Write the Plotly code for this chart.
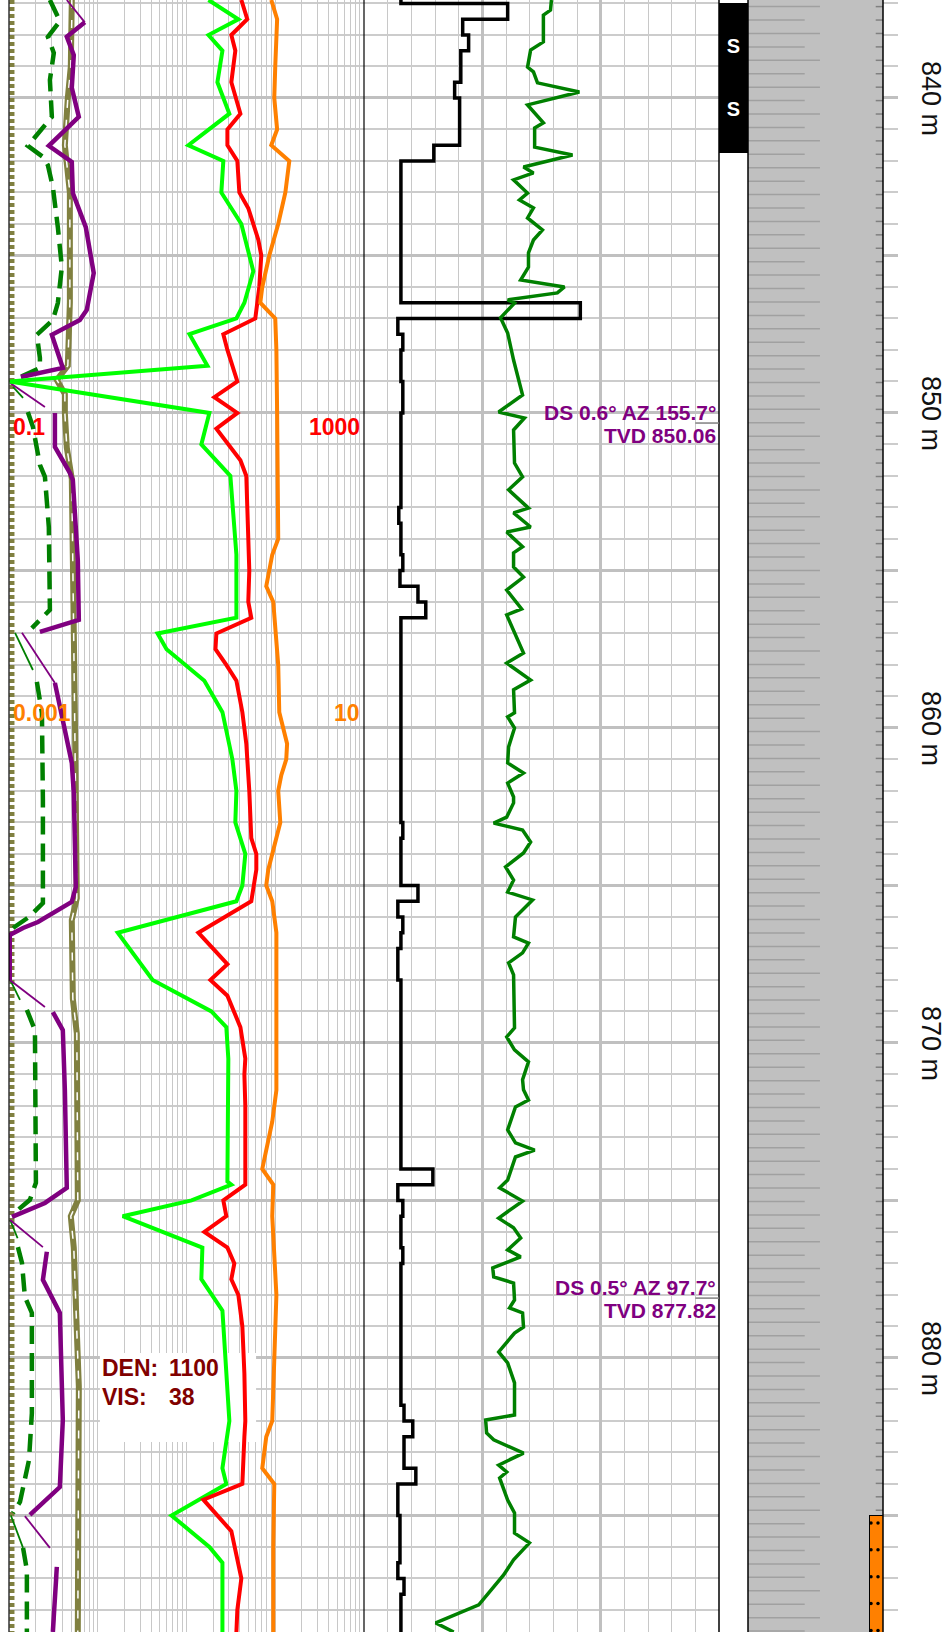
import numpy as np
import plotly.graph_objects as go

W, H = 947, 1632
DEPTH_TOP, DEPTH_BOT = 836.89, 888.70
FONT = "Liberation Sans, Arial, sans-serif"

# ---------------- track 1 (log, red scale 0.1 - 1000) ----------------
lime_depth = [836.89, 837.5, 838.0, 838.5, 839.5, 840.5, 841.5, 842.0, 843.0, 844.0,
              845.5, 846.5, 847.0, 847.5, 848.5, 849.0, 850.0, 851.0, 852.0, 854.5,
              856.5, 857.0, 857.5, 858.5, 859.5, 861.0, 862.0, 863.0, 864.0, 865.0,
              865.5, 866.5, 868.0, 869.0, 869.5, 870.5, 874.4, 874.5, 875.0, 875.5,
              876.5, 877.5, 878.5, 882.0, 883.5, 884.0, 885.0, 886.0, 886.5, 888.7]
lime_val = [17.7, 38.4, 17.7, 25.4, 22.3, 30.4, 10.5, 26.0, 24.7, 41.5,
            56.6, 44.9, 36.5, 10.8, 17.2, 0.102, 18.1, 14.7, 31.2, 36.5,
            36.5, 4.72, 5.96, 15.9, 25.4, 32.9, 36.5, 35.5, 46.0, 42.6,
            36.5, 1.68, 4.15, 19.1, 28.1, 29.6, 28.9, 32.0, 11.4, 1.91,
            15.1, 14.7, 25.4, 30.4, 25.4, 28.1, 6.78, 18.1, 25.4, 25.4]

red_depth = [836.89, 837.5, 838.0, 838.5, 839.5, 840.5, 841.0, 841.5, 842.0, 843.0,
             843.5, 844.5, 845.0, 846.0, 847.0, 847.5, 848.0, 849.0, 849.5, 850.0,
             850.5, 851.5, 852.0, 853.5, 855.0, 856.0, 856.5, 857.0, 857.5, 858.0,
             858.5, 859.5, 860.5, 862.0, 863.5, 864.0, 864.5, 865.5, 866.5, 867.5,
             868.0, 868.5, 869.5, 870.5, 871.0, 872.0, 874.5, 875.0, 875.5, 876.0,
             876.5, 877.0, 877.5, 878.0, 879.0, 880.5, 882.0, 882.5, 884.0, 884.5,
             885.5, 887.0, 888.0, 888.7]
red_val = [41.5, 48.4, 32.0, 35.5, 32.0, 40.5, 28.9, 28.9, 37.4, 39.4,
           49.7, 64.4, 69.6, 66.1, 59.6, 26.0, 28.9, 37.4, 20.6, 37.4,
           21.7, 40.5, 47.2, 49.7, 51.0, 49.7, 53.7, 21.7, 21.2, 28.1,
           36.5, 42.6, 47.2, 51.0, 53.7, 61.2, 61.2, 53.7, 13.6, 28.9,
           18.6, 28.9, 40.5, 46.0, 44.9, 46.0, 46.0, 26.0, 28.1, 15.9,
           28.9, 34.6, 32.0, 38.4, 42.6, 44.9, 46.0, 44.9, 42.6, 15.5,
           32.0, 41.5, 37.4, 36.5]

# orange uses its own scale 0.001 - 10
orange_depth = [836.89, 837.5, 839.0, 840.0, 841.0, 841.5, 842.0, 843.0, 844.0, 845.0,
                846.0, 846.5, 847.0, 848.0, 850.0, 854.0, 854.5, 855.5, 856.0, 858.0,
                859.5, 860.5, 861.0, 861.5, 862.0, 863.0, 864.5, 865.0, 865.5, 866.5,
                869.5, 871.5, 872.5, 874.0, 874.5, 875.5, 878.0, 881.5, 882.0, 882.5,
                883.5, 884.0, 886.0, 888.7]
orange_val = [0.902, 1.05, 1.00, 0.975, 1.05, 0.902, 1.44, 1.30, 1.08, 0.857,
              0.714, 0.678, 1.00, 1.03, 1.05, 1.08, 0.925, 0.792, 0.950, 1.08,
              1.11, 1.36, 1.33, 1.17, 1.08, 1.14, 0.834, 0.792, 0.925, 1.03,
              1.03, 1.03, 0.925, 0.714, 0.950, 0.925, 1.03, 0.950, 0.925, 0.792,
              0.714, 0.975, 0.950, 0.950]

olive_depth = [836.89, 837.5, 839.0, 840.0, 841.5, 843.0, 846.5, 848.5, 848.95, 849.4,
               850.0, 851.1, 852.1, 859.5, 862.0, 865.4, 866.1, 868.6, 869.7, 875.0,
               875.5, 876.5, 880.9, 888.7]
olive_val = [0.510, 0.510, 0.497, 0.460, 0.426, 0.485, 0.485, 0.460, 0.346, 0.426,
             0.426, 0.448, 0.510, 0.552, 0.566, 0.581, 0.510, 0.524, 0.581, 0.596,
             0.497, 0.537, 0.612, 0.596]

olive_edge_depth = [836.89, 888.7]
olive_edge_val = [0.108, 0.108]

purple_depth = [837.6, 838.06, 838.64, 839.68, 840.6, 841.52, 842.03, 843.02, 844.1, 845.56,
                846.73, 847.05, 847.52, 848.57, 848.86, None,
                850.0, 851.08, 851.9, 852.13, 854.67, 856.57, 856.95, None,
                858.57, 861.11, 862.06, 865.05, 865.52, 866.16, 866.35, 866.57, 868.0, None,
                869.02, 869.59, 871.49, 874.6, 875.08, 875.52, None,
                876.63, 877.52, 878.57, 881.97, 884.1, 884.98, None,
                886.63, 888.7]
purple_val = [0.715, 0.448, 0.537, 0.510, 0.612, 0.281, 0.510, 0.524, 0.733, 0.901,
              0.752, 0.628, 0.304, 0.404, 0.136, None,
              0.329, 0.329, 0.485, 0.524, 0.596, 0.612, 0.223, None,
              0.329, 0.510, 0.537, 0.566, 0.510, 0.212, 0.144, 0.102, 0.102, None,
              0.312, 0.404, 0.426, 0.448, 0.254, 0.108, None,
              0.267, 0.241, 0.374, 0.404, 0.374, 0.172, None,
              0.346, 0.312]
purple_thin_depth = [836.89, 837.6, None, 849.05, 849.81, None, 856.98, 858.57, None,
                     868.0, 868.86, None, 875.62, 876.48, None, 885.02, 886.03]
purple_thin_val = [0.448, 0.715, None, 0.103, 0.254, None, 0.140, 0.329, None,
                   0.102, 0.254, None, 0.103, 0.241, None, 0.151, 0.289]

dgreen_depth = [836.89, 837.56, 838.06, 838.57, 839.43, 840.6, 841.52, 841.87, 842.13, 842.83,
                844.1, 845.37, 846.51, 847.05, 847.52, 848.25, 848.57, 848.86, None,
                849.97, 850.44, 851.65, 852.03, 853.62, 856.25, 856.83, None,
                858.54, 859.52, 862.29, 865.56, 866.0, 866.35, None,
                868.95, 869.59, 874.44, 874.98, 875.46, None,
                876.48, 876.98, 878.06, 878.57, 881.75, 883.24, 884.57, 884.92, None,
                886.03, 886.73, 888.7]
dgreen_val = [0.289, 0.374, 0.274, 0.320, 0.289, 0.304, 0.163, 0.241, 0.274, 0.312,
              0.355, 0.394, 0.355, 0.312, 0.206, 0.223, 0.223, 0.133, None,
              0.163, 0.186, 0.223, 0.254, 0.281, 0.289, 0.181, None,
              0.206, 0.235, 0.241, 0.241, 0.168, 0.111, None,
              0.159, 0.196, 0.201, 0.172, 0.108, None,
              0.126, 0.140, 0.151, 0.181, 0.181, 0.168, 0.133, 0.111, None,
              0.144, 0.159, 0.159]
dgreen_thin_depth = [849.17, 849.52, None, 856.98, 858.16, None, 868.0, 868.63, None,
                     875.62, 876.2, None, 885.0, 886.03]
dgreen_thin_val = [0.111, 0.144, None, 0.117, 0.186, None, 0.103, 0.133, None,
                   0.103, 0.125, None, 0.105, 0.144]

# ---------------- track 2 (linear 0 - 150) ----------------
black_top = [836.5, 837.0, 837.5, 838.0, 838.5, 839.5, 840.0, 841.5, 842.0, 846.5,
             847.0, 847.5, 848.0, 849.0, 850.0, 853.0, 853.5, 854.5, 855.0, 855.5,
             856.0, 856.5, 863.0, 863.5, 865.0, 865.5, 866.0, 866.5, 867.0, 868.0,
             874.0, 874.5, 875.0, 875.5, 876.5, 877.0, 881.5, 882.0, 882.5, 883.5,
             884.0, 885.0, 886.5, 887.0, 887.5, 889.0]
black_val = [15.6, 60.7, 41.7, 44.2, 40.9, 38.3, 40.4, 29.5, 15.6, 91.4,
             14.3, 16.4, 15.6, 16.4, 15.6, 14.7, 15.6, 16.4, 15.2, 22.8,
             26.1, 15.6, 16.4, 15.6, 22.8, 14.3, 16.4, 15.6, 14.3, 15.6,
             29.1, 14.3, 16.4, 15.6, 16.4, 15.6, 16.9, 20.6, 16.9, 21.9,
             14.3, 15.2, 14.3, 16.9, 15.6, 15.6]

green_depth = [836.89, 837.21, 837.37, 838.22, 838.48, 839.02, 839.17, 839.52, 839.81, 840.22,
               840.79, 840.95, 841.56, 841.81, 842.19, 842.38, 842.60, 843.02, 843.24, 843.49,
               843.81, 844.19, 844.51, 844.92, 845.37, 845.78, 846.00, 846.19, 846.41, 846.51,
               846.98, 847.46, 848.32, 849.43, 849.97, 850.16, 850.54, 851.59, 852.03, 852.44,
               853.02, 853.17, 853.62, 853.78, 854.25, 854.44, 854.89, 855.21, 855.62, 856.22,
               856.41, 856.98, 857.62, 857.94, 858.48, 858.79, 859.52, 859.65, 860.00, 860.60,
               861.11, 861.43, 861.75, 862.19, 862.38, 862.83, 863.02, 863.24, 863.62, 863.97,
               864.41, 864.83, 865.21, 865.46, 866.00, 866.63, 866.83, 867.14, 867.46, 867.84,
               869.52, 869.81, 870.22, 870.60, 871.17, 871.49, 871.81, 872.03, 872.76, 873.17,
               873.40, 873.62, 874.35, 874.60, 875.02, 875.56, 875.87, 876.19, 876.57, 876.79,
               877.14, 877.43, 877.62, 878.16, 878.41, 878.57, 879.02, 879.21, 879.81, 880.16,
               880.79, 881.81, 881.97, 882.38, 882.60, 883.02, 883.40, 883.62, 883.81, 884.51,
               884.92, 885.56, 885.87, 886.41, 886.89, 887.27, 887.84, 888.41, 888.70]
green_val = [79.2, 78.8, 75.8, 75.8, 70.4, 69.1, 71.6, 73.3, 91.0, 69.1,
             75.8, 72.1, 72.1, 88.1, 67.4, 71.6, 63.2, 69.1, 65.7, 71.6,
             69.1, 75.4, 71.6, 69.5, 69.5, 66.2, 84.7, 81.7, 60.7, 63.6,
             57.7, 60.7, 63.2, 67.0, 56.9, 67.8, 63.2, 63.6, 67.0, 61.1,
             69.5, 63.2, 70.4, 60.3, 67.0, 63.2, 63.2, 67.4, 60.3, 66.6,
             60.3, 63.6, 67.4, 60.3, 70.4, 63.2, 63.6, 60.7, 63.6, 61.1,
             60.7, 67.4, 60.7, 63.2, 63.2, 60.3, 54.8, 67.0, 70.4, 67.4,
             59.8, 63.2, 60.7, 71.2, 64.0, 63.2, 69.5, 67.0, 61.1, 63.2,
             63.6, 60.3, 63.6, 69.5, 67.0, 67.4, 69.5, 64.0, 60.7, 64.0,
             72.1, 64.0, 60.7, 57.3, 67.0, 56.9, 63.2, 66.2, 60.7, 66.2,
             54.4, 54.8, 63.2, 63.6, 61.5, 67.0, 67.4, 63.6, 56.9, 60.7,
             63.6, 63.6, 51.4, 51.8, 54.8, 67.4, 56.9, 60.3, 57.3, 60.7,
             63.6, 63.6, 69.9, 63.2, 59.0, 54.8, 48.5, 30.3, 37.9]

# surveys and mud
survey_md = [850.32, 878.10]
survey_ds = [0.6, 0.5]
survey_az = [155.7, 97.7]
survey_tvd = [850.06, 877.82]
mud_den, mud_vis = 1100, 38

# samples / lithology
sample_top, sample_bot = [837.0], [841.75]
sample_label_depth = [838.4, 840.4]
lith_top = [836.0, 885.0]
lith_bot = [885.0, 890.0]
shale_pct = [100, 90]
sand_pct = [10]          # only in the lower interval

depth_labels = [840, 850, 860, 870, 880]


def dom(a, b):
    return [a / W, b / W]


fig = go.Figure()


def curve(x, y, color, width, xaxis="x", dash=None, shape="linear", **kw):
    fig.add_trace(go.Scatter(
        x=x, y=y, xaxis=xaxis, yaxis="y", mode="lines",
        line=dict(color=color, width=width, dash=dash, shape=shape),
        hoverinfo="skip", showlegend=False, **kw))


# white backing for the mud label (above grid, under curves)
curve([1.057, 60.8, 60.8, 1.057, 1.057], [879.84, 879.84, 882.67, 882.67, 879.84],
      "white", 0, fill="toself", fillcolor="white")

# track 1 curves
curve(olive_edge_val, olive_edge_depth, "#808040", 5, dash="4px,3px")
curve(olive_val, olive_depth, "#808040", 6)
curve(olive_val, olive_depth, "white", 1.5, dash="8px,12px")
curve(dgreen_val, dgreen_depth, "#008000", 4.5, dash="18px,9px")
curve(dgreen_thin_val, dgreen_thin_depth, "#008000", 1.8)
curve(purple_val, purple_depth, "#800080", 4.5)
curve(purple_thin_val, purple_thin_depth, "#800080", 1.8)
curve(lime_val, lime_depth, "#00ff00", 4)
curve(red_val, red_depth, "#ff0000", 4)
curve(orange_val, orange_depth, "#ff8000", 4, xaxis="x2")

# track 2 curves
curve(black_val, black_top, "black", 3.5, xaxis="x3", shape="vh")
curve(green_val, green_depth, "#008000", 3.5, xaxis="x3")

# sample column
fig.add_trace(go.Bar(
    y=[(t + b) / 2 for t, b in zip(sample_top, sample_bot)],
    x=[1] * len(sample_top),
    width=[b - t for t, b in zip(sample_top, sample_bot)],
    orientation="h", xaxis="x4", yaxis="y2",
    marker=dict(color="black", line=dict(width=0)),
    hoverinfo="skip", showlegend=False))
fig.add_trace(go.Scatter(
    x=[0.5] * len(sample_label_depth), y=sample_label_depth, xaxis="x4", yaxis="y2",
    mode="text", text=["<b>S</b>"] * len(sample_label_depth),
    textfont=dict(color="white", size=20, family=FONT),
    hoverinfo="skip", showlegend=False))

# lithology column
lith_center = [(t + b) / 2 for t, b in zip(lith_top, lith_bot)]
lith_thick = [b - t for t, b in zip(lith_top, lith_bot)]
fig.add_trace(go.Bar(
    y=lith_center, x=shale_pct, width=lith_thick, orientation="h",
    xaxis="x5", yaxis="y2", marker=dict(color="#c0c0c0", line=dict(width=0)),
    hoverinfo="skip", showlegend=False))
fig.add_trace(go.Bar(
    y=lith_center[-1:], x=sand_pct, width=lith_thick[-1:], orientation="h",
    xaxis="x5", yaxis="y2", marker=dict(color="#ff8000", line=dict(width=1, color="black")),
    hoverinfo="skip", showlegend=False))

# shale dash pattern and sand dots
step = 0.8524
long_y = np.arange(837.10, DEPTH_BOT + 1, step)
px, py, tx, ty = [], [], [], []
for yy in long_y:
    px += [0, 53.3, None, 0, 42, None]
    py += [yy, yy, None, yy + step / 2, yy + step / 2, None]
    for y2 in (yy, yy + step / 2):
        if y2 < lith_bot[0]:
            tx += [94.6, 100, None]
            ty += [y2, y2, None]
fig.add_trace(go.Scatter(x=px, y=py, xaxis="x5", yaxis="y2", mode="lines",
                         line=dict(color="#a0a0a0", width=1.5),
                         hoverinfo="skip", showlegend=False))
fig.add_trace(go.Scatter(x=tx, y=ty, xaxis="x5", yaxis="y2", mode="lines",
                         line=dict(color="#808080", width=1.5),
                         hoverinfo="skip", showlegend=False))
dot_y = np.arange(lith_bot[0] + 0.24, DEPTH_BOT + 0.5, step)
fig.add_trace(go.Scatter(x=[91.1, 96.3] * len(dot_y), y=np.repeat(dot_y, 2),
                         xaxis="x5", yaxis="y2", mode="markers",
                         marker=dict(color="black", size=3.5),
                         hoverinfo="skip", showlegend=False))

# empty trace so the depth tick strip is drawn
fig.add_trace(go.Scatter(x=[0.5], y=[860], xaxis="x6", yaxis="y3", mode="markers",
                         marker=dict(opacity=0), hoverinfo="skip", showlegend=False))

common = dict(showticklabels=False, ticks="", zeroline=False, showline=False, fixedrange=True)
ygrid = dict(range=[DEPTH_BOT, DEPTH_TOP], dtick=5, tick0=0, showgrid=True,
             gridcolor="#c0c0c0", gridwidth=3,
             minor=dict(dtick=1, tick0=0, showgrid=True, gridcolor="#cccccc", gridwidth=1.5))

fig.update_layout(
    width=W, height=H, margin=dict(l=0, r=0, t=0, b=0), template="none",
    paper_bgcolor="white", plot_bgcolor="white", barmode="stack", showlegend=False,
    font=dict(family=FONT),
    xaxis=dict(domain=dom(9, 364), type="log", range=[-1, 3], dtick="D1", showgrid=True,
               gridcolor="#c8c8c8", gridwidth=1, anchor="y", **common),
    xaxis2=dict(overlaying="x", type="log", range=[-3, 1], showgrid=False, anchor="y",
                visible=False),
    xaxis3=dict(domain=dom(364, 719), range=[0, 150], dtick=50, tick0=0, showgrid=True,
                gridcolor="#c0c0c0", gridwidth=3,
                minor=dict(dtick=10, tick0=0, showgrid=True, gridcolor="#c8c8c8", gridwidth=1),
                anchor="y", **common),
    xaxis4=dict(domain=dom(719, 748), range=[0, 1], showgrid=False, anchor="y2", **common),
    xaxis5=dict(domain=dom(748, 883), range=[0, 100], showgrid=False, anchor="y2", **common),
    xaxis6=dict(domain=dom(883, 898), range=[0, 1], showgrid=False, anchor="y3", **common),
    yaxis=dict(anchor="x", **ygrid, **common),
    yaxis2=dict(matches="y", range=[DEPTH_BOT, DEPTH_TOP], showgrid=False, anchor="x4", **common),
    yaxis3=dict(matches="y", anchor="x6", **ygrid, **common),
)

# track borders
for xb, wb in [(9, 1.2), (364, 1.2), (719, 1.5), (748, 1.5), (883, 1.5)]:
    fig.add_shape(type="line", xref="paper", yref="paper", x0=xb / W, x1=xb / W, y0=0, y1=1,
                  line=dict(color="black", width=wb))

ann = []
# scale labels
for txt, xd, xa, yv, col in [("0.1", 0.006, "left", 850.43, "#ff0000"),
                             ("1000", 0.994, "right", 850.43, "#ff0000"),
                             ("0.001", 0.006, "left", 859.52, "#ff8000"),
                             ("10", 0.994, "right", 859.52, "#ff8000")]:
    ann.append(dict(text=f"<b>{txt}</b>", xref="x domain", yref="y", x=xd, y=yv,
                    xanchor=xa, yanchor="middle", showarrow=False,
                    font=dict(size=23, color=col, family=FONT)))
# mud text
for lab, val, yv in [("DEN:", mud_den, 880.32), ("VIS:", mud_vis, 881.24)]:
    ann.append(dict(text=f"<b>{lab}</b>", xref="x domain", yref="y", x=0.256, y=yv,
                    xanchor="left", yanchor="middle", showarrow=False,
                    font=dict(size=23, color="#800000", family=FONT)))
    ann.append(dict(text=f"<b>{val}</b>", xref="x domain", yref="y", x=0.445, y=yv,
                    xanchor="left", yanchor="middle", showarrow=False,
                    font=dict(size=23, color="#800000", family=FONT)))
# surveys
for md, ds, az, tvd in zip(survey_md, survey_ds, survey_az, survey_tvd):
    fig.add_shape(type="line", xref="x3", yref="y", x0=140, x1=150, y0=md, y1=md,
                  line=dict(color="#808080", width=1.5))
    ann.append(dict(text=f"<b>DS {ds}° AZ {az}°</b>", xref="x3", yref="y", x=150, y=md,
                    xanchor="right", yanchor="middle", yshift=11, xshift=-1, showarrow=False,
                    font=dict(size=21, color="#800080", family=FONT)))
    ann.append(dict(text=f"<b>TVD {tvd:.2f}</b>", xref="x3", yref="y", x=150, y=md,
                    xanchor="right", yanchor="middle", yshift=-12, xshift=-1, showarrow=False,
                    font=dict(size=21, color="#800080", family=FONT)))
# depth labels
for d in depth_labels:
    ann.append(dict(text=f"{d} m", xref="paper", yref="y", x=931 / W, y=d,
                    xanchor="center", yanchor="middle", textangle=90, showarrow=False,
                    font=dict(size=27, color="#111111", family=FONT)))
fig.update_layout(annotations=ann)

fig.write_html("out.html", config={"displayModeBar": False},
               post_script="document.body.style.margin='0';")
